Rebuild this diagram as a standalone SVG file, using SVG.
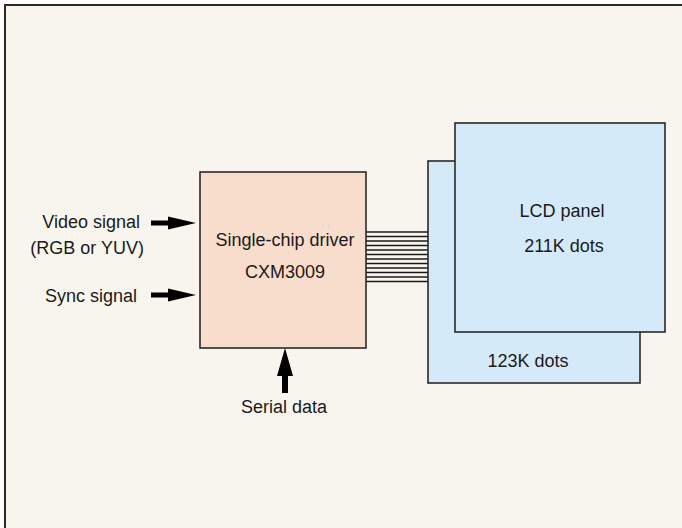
<svg xmlns="http://www.w3.org/2000/svg" width="682" height="528" viewBox="0 0 682 528">
<style>
text{font-family:"Liberation Sans",Arial,sans-serif;font-size:18px;fill:#1a1a1a}
.box{stroke:#2a2a2a;stroke-width:1.6}
.bus line{stroke:#1a1a1a;stroke-width:1.4}
.arr{fill:#000}
</style>
<rect x="0" y="0" width="682" height="528" fill="#ffffff"/>
<rect x="5" y="5" width="700" height="560" fill="#f8f5ee" stroke="#2a2a2a" stroke-width="2"/>
<g id="connectors">
  <g class="bus">
    <line x1="366" y1="232" x2="428" y2="232"/>
    <line x1="366" y1="236.5" x2="428" y2="236.5"/>
    <line x1="366" y1="241" x2="428" y2="241"/>
    <line x1="366" y1="245.5" x2="428" y2="245.5"/>
    <line x1="366" y1="250" x2="428" y2="250"/>
    <line x1="366" y1="254.5" x2="428" y2="254.5"/>
    <line x1="366" y1="259" x2="428" y2="259"/>
    <line x1="366" y1="263.5" x2="428" y2="263.5"/>
    <line x1="366" y1="268" x2="428" y2="268"/>
    <line x1="366" y1="272.5" x2="428" y2="272.5"/>
    <line x1="366" y1="277" x2="428" y2="277"/>
    <line x1="366" y1="281.5" x2="428" y2="281.5"/>
  </g>
  <path class="arr" d="M151,220.5 H168 V216.5 L196,223 L168,229.5 V225.5 H151 Z"/>
  <path class="arr" d="M151,292.5 H168 V288.5 L196,295 L168,301.5 V297.5 H151 Z"/>
  <path class="arr" d="M282,393 V376 H277 L285,348 L293,376 H288 V393 Z"/>
</g>
<g id="back-panel">
  <rect class="box" x="428" y="161" width="212" height="222" fill="#d5eaf8"/>
  <text x="528" y="367" text-anchor="middle">123K dots</text>
</g>
<g id="front-panel">
  <rect class="box" x="455" y="123" width="210" height="209" fill="#d5eaf8"/>
  <text x="562" y="217" text-anchor="middle">LCD panel</text>
  <text x="564" y="252" text-anchor="middle">211K dots</text>
</g>
<g id="driver">
  <rect class="box" x="200" y="172" width="166" height="176" fill="#f8dccc"/>
  <text x="285" y="246" text-anchor="middle">Single-chip driver</text>
  <text x="285" y="278" text-anchor="middle">CXM3009</text>
</g>
<g id="labels">
  <text x="140" y="228" text-anchor="end">Video signal</text>
  <text x="144" y="254" text-anchor="end">(RGB or YUV)</text>
  <text x="137" y="302" text-anchor="end">Sync signal</text>
  <text x="284" y="413" text-anchor="middle">Serial data</text>
</g>
</svg>
